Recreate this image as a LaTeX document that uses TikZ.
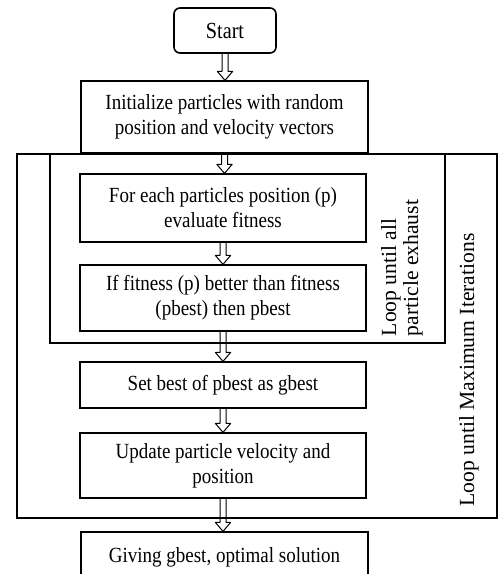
\documentclass[tikz,border=0pt]{standalone}
\usepackage{fontspec}
\setmainfont{Liberation Serif}[FakeStretch=0.88]
\newfontfamily\plainserif{Liberation Serif}
\usetikzlibrary{calc}
\begin{document}
\begin{tikzpicture}[x=0.5pt,y=-0.5pt,
  frame/.style={draw, line width=0.6pt, inner sep=0pt},
  box/.style={draw, line width=0.6pt, align=center, inner sep=0pt, font=\fontsize{10.8}{12.5}\selectfont},
  blockarrow/.style={draw, line width=0.5pt, line join=round,
    to path={let \p1=(\tikztostart), \p2=(\tikztotarget) in
      (\x1-1.5pt,\y1) -- (\x1-1.5pt,\y2+4.5pt) -- (\x1-3.8pt,\y2+4.5pt) -- (\x1,\y2)
      -- (\x1+3.8pt,\y2+4.5pt) -- (\x1+1.5pt,\y2+4.5pt) -- (\x1+1.5pt,\y1)}},
  looplabel/.style={rotate=90, align=left, inner sep=0pt, font=\plainserif\fontsize{10.8}{11}\selectfont}]
\useasboundingbox (0,0) rectangle (499,574);
% loop frames
\node[frame, minimum width=240pt, minimum height=182pt] (outer) at (257,336) {};
\node[frame, minimum width=197.5pt, minimum height=94.5pt] (inner) at (247.5,248.5) {};
% boxes
\node[box, rounded corners=3pt, line width=0.8pt, minimum width=51pt, minimum height=22.5pt, font=\fontsize{11.5}{13}\selectfont] (start) at (225,30.5) {Start};
\node[box, minimum width=143.5pt, minimum height=36pt] (init) at (224.5,117) {Initialize particles with random\\position and velocity vectors};
\node[box, minimum width=143pt, minimum height=34pt] (each) at (223,208) {For each particles position (p)\\evaluate fitness};
\node[box, minimum width=143pt, minimum height=33pt] (iffit) at (223,298) {If fitness (p) better than fitness\\(pbest) then pbest};
\node[box, minimum width=143pt, minimum height=23pt] (setbest) at (223,385) {Set best of pbest as gbest};
\node[box, minimum width=143pt, minimum height=32.5pt] (update) at (223,465.5) {Update particle velocity and\\position};
\node[box, minimum width=143.5pt, minimum height=25pt] (giving) at (224.5,557) {Giving gbest, optimal solution};
% loop labels
\node[looplabel] (lab1) at (402,268) {Loop until all\\particle exhaust};
\node[looplabel] (lab2) at (469,370) {Loop until Maximum Iterations};
% arrows
\draw[blockarrow] (start.south) to (init.north);
\draw[blockarrow] (init.south) to (each.north);
\draw[blockarrow] (each.south) to (iffit.north);
\draw[blockarrow] (iffit.south) to (setbest.north);
\draw[blockarrow] (setbest.south) to (update.north);
\draw[blockarrow] (update.south) to (giving.north);
\end{tikzpicture}
\end{document}
